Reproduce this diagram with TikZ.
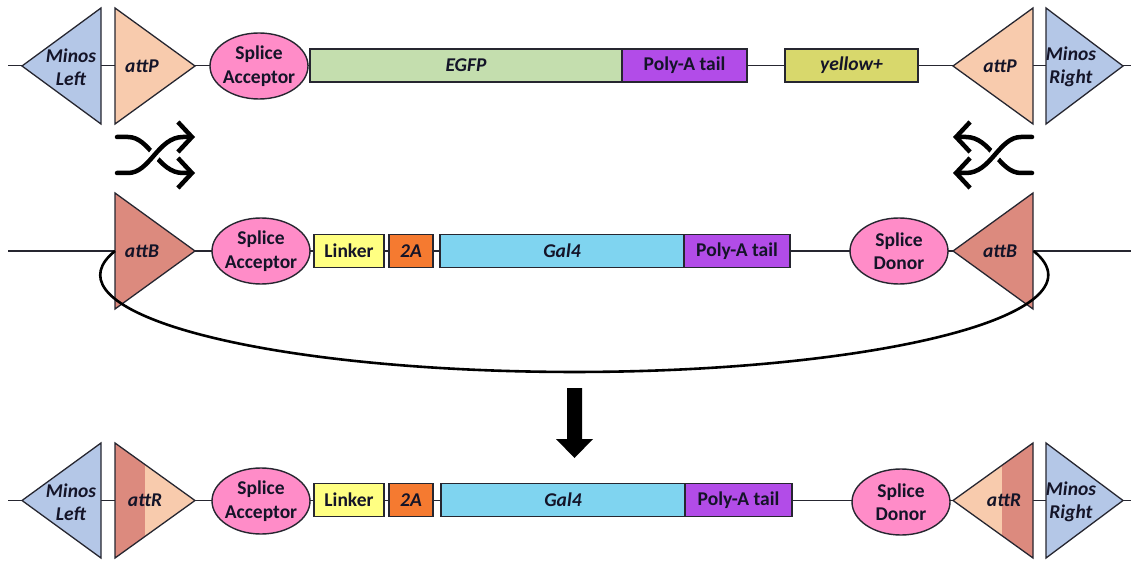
\documentclass[tikz,border=0pt]{standalone}
\usepackage{fontspec}
\setmainfont{Carlito}
\usetikzlibrary{arrows.meta,shapes.geometric}
\definecolor{minos}{HTML}{B4C7E7}
\definecolor{attp}{HTML}{F8CBAD}
\definecolor{attb}{HTML}{DC8A7E}
\definecolor{splice}{HTML}{FF8CC8}
\definecolor{egfp}{HTML}{C4DEAE}
\definecolor{polya}{HTML}{B24CE8}
\definecolor{yel}{HTML}{D8D86C}
\definecolor{linker}{HTML}{FFFF82}
\definecolor{twoa}{HTML}{F57A30}
\definecolor{gal}{HTML}{7FD4F0}
\definecolor{txt}{HTML}{141428}
\definecolor{edge}{HTML}{262630}
\begin{document}
\begin{tikzpicture}[x=1pt,y=-1pt,
  every node/.style={font=\fontsize{19.5}{23.5}\selectfont\bfseries, text=txt},
  tri/.style={draw=edge, line width=1.3},
  gbox/.style={draw=edge, line width=1.8, inner sep=0, minimum height=33, rectangle},
  splice/.style={ellipse, draw=edge, line width=1.4, fill=splice, inner sep=0, minimum width=98, minimum height=66},
  lbl/.style={align=center, inner sep=0},
  backbone/.style={draw=edge, line width=1.4},
  cross/.style={line width=4.5, line cap=round, -{Straight Barb[length=14pt,width=30pt,line width=4.5pt]}},
  loop/.style={line width=2.6, black}]
\useasboundingbox (0,0) rectangle (1131,561);

% ---------- backbones ----------
\coordinate (l1) at (8,65.5);   \coordinate (r1) at (1131,65.5);
\coordinate (l2) at (8,251);    \coordinate (r2) at (1131,251);
\coordinate (l3) at (8,500.5);  \coordinate (r3) at (1131,500.5);
\draw[backbone] (l1) -- (r1);
\draw[backbone] (l2) -- (r2);
\draw[backbone] (l3) -- (r3);

% ---------- row 1 ----------
\draw[tri, fill=minos] (101,8) -- (101,124) -- (22,66) -- cycle;
\node[lbl] (ml1) at (71,67) {\textit{Minos}\\\textit{Left}};
\draw[tri, fill=attp] (115,8) -- (115,124) -- (195,66) -- cycle;
\node[lbl] (ap1) at (142,66) {\textit{attP}};
\node[splice] (sa1) at (259,66) {};
\node[lbl] at (sa1) {Splice\\Acceptor};
\node[gbox, fill=egfp, minimum width=312] (egfp) at (466,65.5) {\textit{EGFP}};
\node[gbox, fill=polya, minimum width=125] (pa1) at (684.5,65.5) {Poly-A tail};
\node[gbox, fill=yel, minimum width=133] (yel) at (851.5,65.5) {\textit{yellow+}};
\draw[tri, fill=attp] (1033,8) -- (1033,124) -- (953,66) -- cycle;
\node[lbl] (ap2) at (1000,66) {\textit{attP}};
\draw[tri, fill=minos] (1046,8) -- (1046,124) -- (1123,66) -- cycle;
\node[lbl] (mr1) at (1071,67) {\textit{Minos}\\\textit{Right}};

% ---------- crossover arrows ----------
\draw[cross] (117,137) -- (128,137) .. controls (150,137) and (158,173) .. (183,173) -- (195,173);
\draw[line width=11, white] (132,173) .. controls (150,173) and (158,137) .. (178,137);
\draw[cross] (117,173) -- (128,173) .. controls (150,173) and (158,137) .. (183,137) -- (195,137);

\draw[cross] (1032,173) -- (1021,173) .. controls (999,173) and (991,137) .. (966,137) -- (953,137);
\draw[line width=11, white] (1017,137) .. controls (999,137) and (991,173) .. (971,173);
\draw[cross] (1032,137) -- (1021,137) .. controls (999,137) and (991,173) .. (966,173) -- (953,173);

% ---------- row 2 ----------
\draw[tri, fill=attb] (115,193) -- (115,309) -- (195,251) -- cycle;
\node[lbl] (ab1) at (142,251) {\textit{attB}};
\node[splice] (sa2) at (261,251) {};
\node[lbl] at (sa2) {Splice\\Acceptor};
\node[gbox, fill=linker, minimum width=70] (lk2) at (349,251) {Linker};
\node[gbox, fill=twoa, minimum width=44] (ta2) at (411,251) {\textit{2A}};
\node[gbox, fill=gal, minimum width=244] (gal2) at (562,251) {\textit{Gal4}};
\node[gbox, fill=polya, minimum width=106] (pa2) at (737,251) {Poly-A tail};
\node[splice] (sd2) at (899,251) {};
\node[lbl] at (sd2) {Splice\\Donor};
\draw[tri, fill=attb] (1033,193) -- (1033,309) -- (953,251) -- cycle;
\node[lbl] (ab2) at (1000,251) {\textit{attB}};

% loop
\coordinate (lpL) at (115,251);
\draw[loop] (lpL) arc[start angle=194.3, end angle=-14.3, x radius=474, y radius=97];

% ---------- down arrow ----------
\fill[black] (567,388) -- (582,388) -- (582,439) -- (593,439) -- (574.5,458) -- (556,439) -- (567,439) -- cycle;

% ---------- row 3 ----------
\draw[tri, fill=minos] (101,443) -- (101,558) -- (22,500.5) -- cycle;
\node[lbl] (ml3) at (71,502) {\textit{Minos}\\\textit{Left}};
\fill[attp] (115,443) -- (115,558) -- (195,500.5) -- cycle;
\begin{scope}
  \clip (115,443) -- (115,558) -- (195,500.5) -- cycle;
  \fill[attb] (110,440) rectangle (145,562);
\end{scope}
\draw[tri] (115,443) -- (115,558) -- (195,500.5) -- cycle;
\node[lbl] (ar1) at (145,500.5) {\textit{attR}};
\node[splice] (sa3) at (261,501) {};
\node[lbl] at (sa3) {Splice\\Acceptor};
\node[gbox, fill=linker, minimum width=70] (lk3) at (349,500) {Linker};
\node[gbox, fill=twoa, minimum width=44] (ta3) at (411,500) {\textit{2A}};
\node[gbox, fill=gal, minimum width=244] (gal3) at (563,500) {\textit{Gal4}};
\node[gbox, fill=polya, minimum width=107] (pa3) at (738.5,500) {Poly-A tail};
\node[splice] (sd3) at (901,502) {};
\node[lbl] at (sd3) {Splice\\Donor};
\fill[attp] (1033,443) -- (1033,558) -- (953,500.5) -- cycle;
\begin{scope}
  \clip (1033,443) -- (1033,558) -- (953,500.5) -- cycle;
  \fill[attb] (1002,440) rectangle (1040,562);
\end{scope}
\draw[tri] (1033,443) -- (1033,558) -- (953,500.5) -- cycle;
\node[lbl] (ar2) at (1004,500.5) {\textit{attR}};
\draw[tri, fill=minos] (1046,443) -- (1046,558) -- (1123,500.5) -- cycle;
\node[lbl] (mr3) at (1071,502) {\textit{Minos}\\\textit{Right}};
\end{tikzpicture}
\end{document}
